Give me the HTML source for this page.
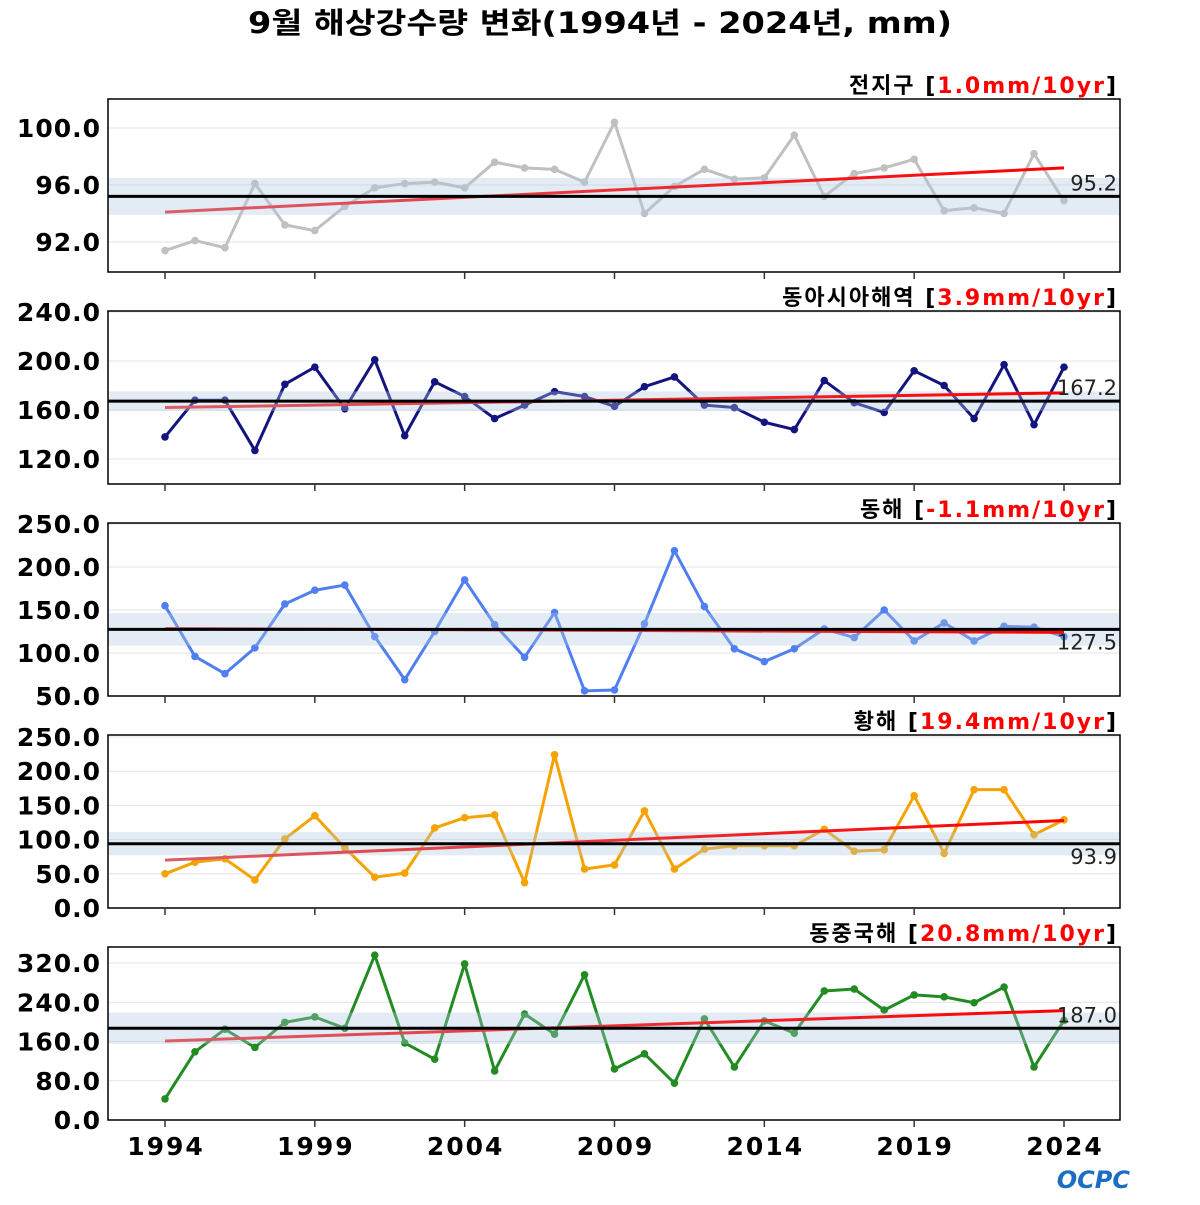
<!DOCTYPE html>
<html><head><meta charset="utf-8">
<style>
body{margin:0;background:#fff;width:1200px;height:1200px;overflow:hidden}
svg{font-family:"DejaVu Sans","Noto Sans CJK KR",sans-serif}
</style></head>
<body>
<svg id="chart" width="1200" height="1200" viewBox="0 0 1200 1200" xmlns="http://www.w3.org/2000/svg">
<defs>
<linearGradient id="tg" x1="0" x2="1" y1="0" y2="0"><stop offset="0" stop-color="#d9606a"/><stop offset="1" stop-color="#ff0000"/></linearGradient>
</defs>
<text x="248" y="33" textLength="704" lengthAdjust="spacingAndGlyphs" font-size="29" font-weight="bold">9월 해상강수량 변화(1994년 - 2024년, mm)</text>
<g id="panels"></g>
<text x="1130" y="1188" text-anchor="end" font-size="24" font-weight="bold" fill="#1a6fc4" font-style="italic">OCPC</text>
</svg>
<script>
const years = [];
for (let y = 1994; y <= 2024; y++) years.push(y);
const xTickYears = [1994,1999,2004,2009,2014,2019,2024];

const globalValues = [91.4,92.1,91.6,96.1,93.2,92.8,94.5,95.8,96.1,96.2,95.8,97.6,97.2,97.1,96.2,100.4,94.0,95.9,97.1,96.4,96.5,99.5,95.2,96.8,97.2,97.8,94.2,94.4,94.0,98.2,94.9];
const eastAsiaValues = [138,168,168,127,181,195,161,201,139,183,171,153,164,175,171,163,179,187,164,162,150,144,184,166,158,192,180,153,197,148,195];
const eastSeaValues = [155,96,76,106,157,173,179,119,69,125,185,133,95,147,56,57,134,219,154,105,90,105,128,118,150,114,135,114,131,130,119];
const yellowSeaValues = [50,67,72,41,101,135,88,45,51,117,132,136,37,224,57,63,142,57,86,91,91,91,115,83,85,164,80,173,173,107,129];
const ecsValues = [43,139,185,148,199,210,187,336,157,124,318,100,216,175,296,104,135,75,206,108,202,177,263,267,224,255,251,239,271,108,203];

const panelTitles = ["전지구","동아시아해역","동해","황해","동중국해"];
const trendLabels = ["1.0mm/10yr","3.9mm/10yr","-1.1mm/10yr","19.4mm/10yr","20.8mm/10yr"];
const means = [95.2,167.2,127.5,93.9,187.0];
const bandHalf = [1.3,8,19,17,32];
const trendStart = [94.1,162,128.5,70,161];
const trendEnd = [97.2,174,124,128,223];
const yTicks = [[92,96,100],[120,160,200,240],[50,100,150,200,250],[0,50,100,150,200,250],[0,80,160,240,320]];
const seriesValues = [globalValues,eastAsiaValues,eastSeaValues,yellowSeaValues,ecsValues];
const colors = ["#c0c0c0","#141480","#4f7ff0","#f5a300","#228b22"];
const panelNames = ["global","east-asia","east-sea","yellow-sea","east-china-sea"];

const NS = "http://www.w3.org/2000/svg";
const root = document.getElementById("panels");
const X0 = 108, X1 = 1120;
const panelTops = [99,311,523,735,947];
const PH = 173;
function xs(yr){ return 165 + (yr - 1994) * (899/30); }
function mk(tag, attrs, parent){
  const e = document.createElementNS(NS, tag);
  for (const k in attrs) e.setAttribute(k, attrs[k]);
  parent.appendChild(e); return e;
}
const yPix = [[128,242,100,92],[312,459,240,120],[524,696,250,50],[737,908,250,0],[963,1120,320,0]];

for (let p = 0; p < 5; p++) {
  const top = panelTops[p], bot = top + PH;
  const [pa, pb, va, vb] = yPix[p];
  const ys = v => pa + (va - v) * (pb - pa) / (va - vb);
  const g = mk("g", {}, root);
  
  
  yTicks[p].forEach(t => {
    const gl = mk("line", {x1:X0, x2:X1, y1:ys(t), y2:ys(t), stroke:"#e3e3e3", "stroke-width":1}, g);
    
    
    const tl = mk("text", {x:101, y:ys(t)+9, "text-anchor":"end", "font-size":25, "font-weight":"bold", "letter-spacing":1}, g);
    tl.textContent = t.toFixed(1);
    
    
  });
  const vals = seriesValues[p];
  const pts = vals.map((v,i) => xs(years[i]) + "," + ys(v)).join(" ");
  const pl = mk("polyline", {points:pts, fill:"none", stroke:colors[p], "stroke-width":3, "stroke-linejoin":"round"}, g);
  
  
  vals.forEach((v,i) => {
    const c = mk("circle", {cx:xs(years[i]), cy:ys(v), r:3.8, fill:colors[p]}, g);
    
    
  });
  const b = mk("rect", {x:X0, width:X1-X0, y:ys(means[p]+bandHalf[p]), height:ys(means[p]-bandHalf[p])-ys(means[p]+bandHalf[p]), fill:"#b0c8e0", opacity:0.35}, g);
  
  
  const tr = mk("line", {x1:xs(1994), x2:xs(2024), y1:ys(trendStart[p]), y2:ys(trendEnd[p]), stroke:"url(#tg)", "stroke-width":3}, g);
  
  
  const ml = mk("line", {x1:X0, x2:X1, y1:ys(means[p]), y2:ys(means[p]), stroke:"#000", "stroke-width":3}, g);
  
  
  const mt = mk("text", {x:1117, y:ys(means[p])-6 + (p===2||p===3?26:0), "text-anchor":"end", "font-size":21, fill:"#222"}, g);
  mt.textContent = means[p].toFixed(1);
  
  
  const fr = mk("rect", {x:X0, y:top, width:X1-X0, height:PH, fill:"none", stroke:"#000", "stroke-width":1.5}, g);
  
  
  xTickYears.forEach(yr => {
    const tk = mk("line", {x1:xs(yr), x2:xs(yr), y1:bot, y2:bot+7, stroke:"#333", "stroke-width":1.5}, g);
    
    
  });
  const tt = mk("text", {x:1118, y:top-6, "text-anchor":"end", "font-size":22, "font-weight":"bold", "letter-spacing":2}, g);
  
  
  const s1 = mk("tspan", {}, tt); s1.textContent = panelTitles[p] + " [";
  const s2 = mk("tspan", {fill:"#ff0000"}, tt); s2.textContent = trendLabels[p];
  const s3 = mk("tspan", {}, tt); s3.textContent = "]";
}
xTickYears.forEach(yr => {
  const t = mk("text", {x:xs(yr)+1, y:1155, "text-anchor":"middle", "font-size":25, "font-weight":"bold", "letter-spacing":2}, root);
  t.textContent = yr;
  
  
});
</script>
</body></html>
